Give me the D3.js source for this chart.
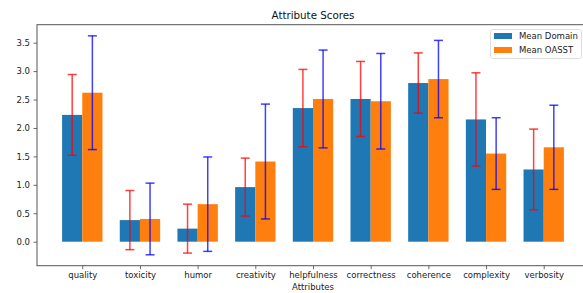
<!DOCTYPE html>
<html>
<head>
<meta charset="utf-8">
<script src="https://cdn.jsdelivr.net/npm/d3@7"></script>
<style>
  body { margin: 0; background: #fff; }
  svg { display: block; font-family: "DejaVu Sans", sans-serif; }
</style>
</head>
<body>
<svg id="chart" width="583" height="293"></svg>
<script>
// data
var attributes = ["quality", "toxicity", "humor", "creativity", "helpfulness", "correctness", "coherence", "complexity", "verbosity"]
var meanDomain = [2.23, 0.38, 0.23, 0.96, 2.35, 2.51, 2.79, 2.15, 1.27]
var stdDomain  = [0.71, 0.52, 0.43, 0.51, 0.68, 0.66, 0.53, 0.82, 0.71]
var meanOasst  = [2.62, 0.40, 0.66, 1.41, 2.51, 2.47, 2.86, 1.55, 1.66]
var stdOasst   = [1.00, 0.63, 0.83, 1.01, 0.86, 0.84, 0.68, 0.63, 0.74]
var yTicks = [0, 0.5, 1, 1.5, 2, 2.5, 3, 3.5]
var seriesNames = ["Mean Domain", "Mean OASST"]

var colorDomain = "#1f77b4"
var colorOasst = "#ff7f0e"
var barW = 0.35

var svg = d3.select("#chart")

var margin = {top: 24.7, left: 37, bottom: 265.7, right: 589}

var x = d3.scaleLinear()
  .domain([-0.785, attributes.length - 1 + 0.785])
  .range([margin.left, margin.right])

var y = d3.scaleLinear()
  .domain([-0.422, 3.816])
  .range([margin.bottom, margin.top])

var pxW = x(barW) - x(0)

function drawSeries(means, stds, offset, color, ecolor) {
  var g = svg.append("g")
  g.selectAll("rect")
    .data(means)
    .join("rect")
    .attr("x", (d, i) => x(i + offset - barW / 2))
    .attr("width", pxW)
    .attr("y", d => Math.min(y(d), y(0)))
    .attr("height", d => Math.abs(y(0) - y(d)))
    .attr("fill", color)

  // error bars
  var eb = g.append("g")
    .attr("stroke", ecolor)
    .attr("stroke-width", 1.5)
    .attr("stroke-opacity", 0.75)
  var rows = means.map((m, i) => ({i: i, lo: m - stds[i], hi: m + stds[i]}))
  eb.selectAll("line.v")
    .data(rows)
    .join("line")
    .attr("class", "v")
    .attr("x1", d => x(d.i + offset))
    .attr("x2", d => x(d.i + offset))
    .attr("y1", d => y(d.lo))
    .attr("y2", d => y(d.hi))
  eb.selectAll("line.lo")
    .data(rows)
    .join("line")
    .attr("class", "lo")
    .attr("x1", d => x(d.i + offset) - 4.5)
    .attr("x2", d => x(d.i + offset) + 4.5)
    .attr("y1", d => y(d.lo))
    .attr("y2", d => y(d.lo))
  eb.selectAll("line.hi")
    .data(rows)
    .join("line")
    .attr("class", "hi")
    .attr("x1", d => x(d.i + offset) - 4.5)
    .attr("x2", d => x(d.i + offset) + 4.5)
    .attr("y1", d => y(d.hi))
    .attr("y2", d => y(d.hi))
}

drawSeries(meanDomain, stdDomain, -barW / 2, colorDomain, "red")
drawSeries(meanOasst, stdOasst, barW / 2, colorOasst, "blue")

// axes
var xAxis = svg.append("g")
  .attr("transform", `translate(0,${margin.bottom})`)
  .call(d3.axisBottom(x)
    .tickValues(d3.range(attributes.length))
    .tickFormat(i => attributes[i])
    .tickSize(3.5)
    .tickPadding(3))
var yAxis = svg.append("g")
  .attr("transform", `translate(${margin.left},0)`)
  .call(d3.axisLeft(y)
    .tickValues(yTicks)
    .tickFormat(d3.format(".1f"))
    .tickSize(3.5)
    .tickPadding(3.5))

svg.selectAll(".domain").remove()
svg.selectAll(".tick line").attr("stroke", "#444").attr("stroke-width", 0.8)
svg.selectAll(".tick text")
  .attr("font-size", "8.5px")
  .attr("font-family", "DejaVu Sans")
  .attr("fill", "#222")

// spines
var spines = svg.append("g").attr("stroke", "#555").attr("stroke-width", 1).attr("fill", "none")
spines.append("rect")
  .attr("x", margin.left)
  .attr("y", margin.top)
  .attr("width", margin.right - margin.left)
  .attr("height", margin.bottom - margin.top)

// title + axis label
svg.append("text")
  .attr("x", (margin.left + margin.right) / 2)
  .attr("y", 18.5)
  .attr("text-anchor", "middle")
  .attr("font-size", "10.3px")
  .attr("fill", "#111")
  .text("Attribute Scores")

svg.append("text")
  .attr("x", (margin.left + margin.right) / 2)
  .attr("y", 290)
  .attr("text-anchor", "middle")
  .attr("font-size", "8.5px")
  .attr("fill", "#222")
  .text("Attributes")

// legend
var legend = svg.append("g")
legend.append("rect")
  .attr("x", 490.5)
  .attr("y", 29.5)
  .attr("width", 91)
  .attr("height", 29)
  .attr("rx", 2)
  .attr("fill", "white")
  .attr("fill-opacity", 0.8)
  .attr("stroke", "#d5d5d5")
  .attr("stroke-width", 0.8)

var legendColors = [colorDomain, colorOasst]
var items = legend.selectAll("g.item")
  .data(seriesNames)
  .join("g")
  .attr("class", "item")
  .attr("transform", (d, i) => `translate(494,${33 + i * 14})`)
items.append("rect")
  .attr("width", 18)
  .attr("height", 6)
  .attr("fill", (d, i) => legendColors[i])
items.append("text")
  .attr("x", 25)
  .attr("y", 3)
  .attr("dy", "0.35em")
  .attr("font-size", "8.5px")
  .attr("fill", "#222")
  .text(d => d)
</script>
</body>
</html>
